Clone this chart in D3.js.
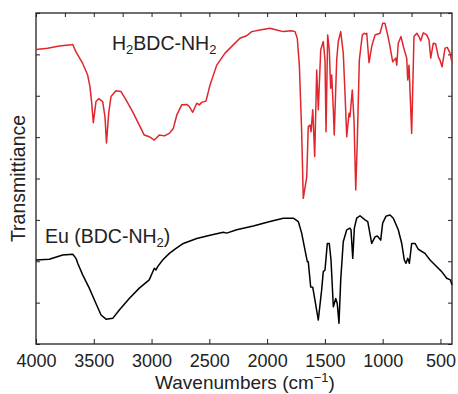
<!DOCTYPE html>
<html>
<head>
<meta charset="utf-8">
<script src="https://cdn.jsdelivr.net/npm/d3@7"></script>
<style>
  body { margin: 0; background: #fff; }
  text { font-family: "Liberation Sans", Arial, sans-serif; fill: #222; }
</style>
</head>
<body>
<script>
// H2BDC-NH2 spectrum (red): wavenumber (cm-1) and transmittance (arb. units)
const redWn = [4000, 3900, 3798, 3697, 3682, 3654, 3596, 3553, 3533, 3518, 3504, 3481, 3457, 3423, 3403, 3390, 3371, 3351, 3308, 3264, 3221,
  3163, 3106, 3063, 3020, 2976, 2933, 2890, 2846, 2812, 2782, 2739, 2696, 2673, 2644, 2609, 2587, 2566, 2529, 2494, 2436,
  2364, 2293, 2235, 2177, 2133, 2062, 1975, 1917, 1860, 1787, 1759, 1739, 1721, 1701, 1687, 1657, 1644, 1629, 1620, 1605,
  1588, 1571, 1557, 1536, 1514, 1499, 1490, 1476, 1462, 1450, 1441, 1427, 1419, 1398, 1384, 1363, 1341, 1326, 1311, 1291,
  1283, 1263, 1248, 1233, 1220, 1202, 1176, 1159, 1147, 1138, 1118, 1095, 1066, 1023, 1000, 980, 960, 942, 913, 887,
  878, 865, 841, 821, 792, 783, 772, 749, 729, 705, 686, 671, 648, 619, 599, 584, 562, 541, 518, 504,
  486, 460, 441, 417, 400];
const redT = [71.2, 71.5, 72.0, 72.3, 72.4, 70.6, 67.8, 65.0, 62.2, 58.2, 53.5, 58.6, 59.3, 58.6, 54.9, 48.6, 55.8, 59.8, 61.2, 61.0, 59.0,
  56.1, 52.9, 50.5, 50.1, 49.3, 50.5, 50.3, 50.9, 52.1, 55.3, 57.8, 57.9, 57.4, 56.0, 58.2, 57.8, 58.4, 58.7, 62.6, 67.4,
  70.3, 72.3, 73.9, 74.5, 75.5, 75.9, 76.3, 75.9, 75.5, 75.7, 75.5, 73.9, 67.4, 51.3, 35.2, 40.4, 52.5, 52.9, 51.3, 56.6,
  45.3, 66.2, 56.6, 71.1, 73.1, 68.6, 51.3, 74.7, 71.1, 61.8, 65.0, 56.6, 50.5, 68.6, 73.1, 75.5, 70.3, 60.6, 50.1, 55.8,
  54.9, 61.4, 54.1, 37.2, 48.5, 68.6, 74.7, 75.1, 74.9, 75.1, 68.0, 71.9, 74.7, 75.1, 77.5, 77.5, 75.1, 72.7, 68.2, 69.1,
  67.4, 72.7, 74.3, 71.9, 69.1, 63.8, 67.4, 50.9, 74.3, 75.1, 74.3, 73.3, 75.2, 74.7, 73.5, 69.1, 72.7, 72.5, 69.4, 68.6,
  67.0, 71.5, 71.7, 70.3, 68.0];

// Eu(BDC-NH2) spectrum (black)
const blackWn = [4000, 3885, 3769, 3682, 3654, 3639, 3596, 3539, 3481, 3437, 3394, 3336, 3279, 3193, 3106, 3020, 2976, 2962, 2947, 2904,
  2846, 2788, 2725, 2609, 2494, 2379, 2350, 2263, 2120, 1975, 1860, 1773, 1730, 1701, 1672, 1652, 1644, 1623, 1605, 1586,
  1557, 1528, 1514, 1499, 1479, 1462, 1447, 1427, 1406, 1393, 1378, 1363, 1341, 1311, 1283, 1274, 1259, 1245, 1225, 1196,
  1153, 1129, 1095, 1066, 1046, 1017, 1000, 971, 936, 908, 865, 835, 813, 798, 783, 769, 749, 720, 692, 634,
  590, 547, 489, 446, 414, 400];
const blackT = [20.3, 20.5, 21.5, 21.7, 20.7, 19.5, 16.7, 13.5, 9.8, 7.0, 6.0, 6.2, 8.2, 11.0, 13.5, 15.5, 18.3, 17.9, 18.7, 20.3,
  21.9, 23.1, 24.3, 25.5, 26.3, 27.0, 26.8, 27.6, 28.5, 29.6, 30.4, 30.4, 29.6, 26.8, 22.7, 19.9, 19.9, 13.8, 13.7, 10.6,
  5.8, 13.1, 17.5, 17.9, 24.3, 24.3, 20.3, 9.0, 11.0, 9.8, 5.0, 15.5, 24.7, 27.6, 28.0, 27.6, 20.7, 28.0, 30.4, 31.0,
  30.0, 29.6, 24.3, 25.9, 26.1, 25.1, 29.2, 30.9, 31.2, 30.4, 27.6, 24.3, 20.3, 19.5, 20.7, 19.5, 24.3, 24.3, 22.9, 21.9,
  20.3, 19.1, 17.5, 15.9, 15.5, 14.3];

const xTickValues = [4000, 3500, 3000, 2500, 2000, 1500, 1000, 500];

const width = 458, height = 394;
const margin = {top: 13, right: 6, bottom: 50, left: 36};

const svg = d3.select("body").append("svg")
  .attr("width", width)
  .attr("height", height);

const x = d3.scaleLinear().domain([4000, 400]).range([margin.left, width - margin.right]);
const y = d3.scaleLinear().domain([0, 80]).range([height - margin.bottom, margin.top]);

// axes (ticks point inward)
svg.append("g")
  .attr("transform", `translate(0,${height - margin.bottom})`)
  .call(d3.axisBottom(x).tickValues(xTickValues).tickSizeInner(-5).tickSizeOuter(0).tickPadding(10).tickFormat(d3.format("d")))
  .call(g => g.selectAll("text").attr("font-size", 18).attr("fill", "#222").attr("font-family", "Liberation Sans, Arial, sans-serif"));

svg.append("g")
  .attr("transform", `translate(0,${margin.top})`)
  .call(d3.axisTop(x).tickValues(d3.range(4000, 399, -250)).tickSizeInner(-4).tickSizeOuter(0).tickFormat(""));

svg.append("g")
  .attr("transform", `translate(${margin.left},0)`)
  .call(d3.axisLeft(y).ticks(8).tickSizeInner(-4).tickSizeOuter(0).tickFormat(""));

svg.append("g")
  .attr("transform", `translate(${width - margin.right},0)`)
  .call(d3.axisRight(y).ticks(8).tickSizeInner(-4).tickSizeOuter(0).tickFormat(""));

svg.selectAll(".domain").remove();
svg.selectAll(".tick line").attr("stroke", "#222").attr("stroke-width", 1);

svg.append("rect")
  .attr("x", margin.left)
  .attr("y", margin.top)
  .attr("width", width - margin.left - margin.right)
  .attr("height", height - margin.top - margin.bottom)
  .attr("fill", "none")
  .attr("stroke", "#222")
  .attr("stroke-width", 1.3);

// spectra
const line = d3.line()
  .x(d => x(d[0]))
  .y(d => y(d[1]));

svg.append("path")
  .datum(d3.zip(redWn, redT))
  .attr("fill", "none")
  .attr("stroke", "#e0262c")
  .attr("stroke-width", 1.5)
  .attr("stroke-linejoin", "round")
  .attr("d", line);

svg.append("path")
  .datum(d3.zip(blackWn, blackT))
  .attr("fill", "none")
  .attr("stroke", "#000")
  .attr("stroke-width", 1.5)
  .attr("stroke-linejoin", "round")
  .attr("d", line);

// labels
const lab1 = svg.append("text").attr("x", 112).attr("y", 50).attr("font-size", 19.5);
lab1.append("tspan").text("H");
lab1.append("tspan").attr("font-size", 13).attr("dy", 4).text("2");
lab1.append("tspan").attr("dy", -4).text("BDC-NH");
lab1.append("tspan").attr("font-size", 13).attr("dy", 4).text("2");

const lab2 = svg.append("text").attr("x", 45).attr("y", 243).attr("font-size", 19.5);
lab2.append("tspan").text("Eu (BDC-NH");
lab2.append("tspan").attr("font-size", 13).attr("dy", 4).text("2");
lab2.append("tspan").attr("dy", -4).text(")");

svg.append("text")
  .attr("transform", `translate(25,${(margin.top + height - margin.bottom) / 2}) rotate(-90)`)
  .attr("text-anchor", "middle")
  .attr("font-size", 19.5)
  .text("Transmittiance");

const xl = svg.append("text")
  .attr("x", 245)
  .attr("y", 389)
  .attr("text-anchor", "middle")
  .attr("font-size", 19);
xl.append("tspan").text("Wavenumbers (cm");
xl.append("tspan").attr("font-size", 13).attr("dy", -7).text("−1");
xl.append("tspan").attr("dy", 7).text(")");
</script>
</body>
</html>
